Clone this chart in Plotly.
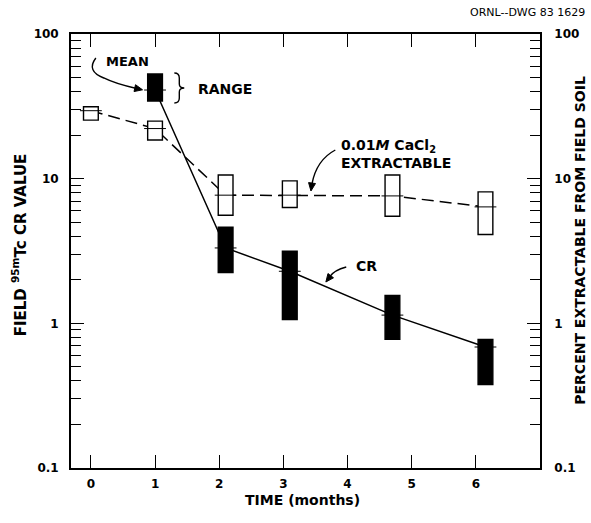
import math
import plotly.graph_objects as go

# ---- data ----
cr_time = [1.0, 2.1, 3.1, 4.7, 6.15]
cr_mean = [41.0, 3.32, 2.29, 1.14, 0.686]
cr_low = [34.4, 2.24, 1.06, 0.775, 0.378]
cr_high = [52.9, 4.62, 3.15, 1.56, 0.775]

ext_time = [0.0, 1.0, 2.1, 3.1, 4.7, 6.15]
ext_mean = [29.5, 22.2, 7.69, 7.69, 7.6, 6.38]
ext_low = [25.4, 18.5, 5.59, 6.32, 5.5, 4.11]
ext_high = [31.4, 25.0, 10.6, 9.66, 10.6, 8.1]

x_ticks = [0, 1, 2, 3, 4, 5, 6]
y_ticks = [0.1, 1, 10, 100]
y_tick_labels = ["0.1", "1", "10", "100"]
y_minor = [m * d for d in (0.1, 1, 10) for m in range(2, 10)]

FONT = "DejaVu Sans"
BOX_HALF = 0.115
TICK_HALF = 0.17

# figure geometry
W, H = 591, 523
ML, MR, MT, MB = 71, 48, 34, 55
PW, PH = W - ML - MR, H - MT - MB


def PX(px):
    return (px - ML) / PW


def PY(py):
    return (H - MB - py) / PH


fig = go.Figure()

# connecting lines through the means
fig.add_trace(go.Scatter(x=ext_time, y=ext_mean, mode="lines",
                         line=dict(color="black", width=1.5, dash="12px,6px"),
                         showlegend=False, hoverinfo="skip"))
fig.add_trace(go.Scatter(x=cr_time, y=cr_mean, mode="lines",
                         line=dict(color="black", width=1.5),
                         showlegend=False, hoverinfo="skip"))
# invisible trace to keep the right axis alive
fig.add_trace(go.Scatter(x=[ext_time[0]], y=[ext_mean[0]], yaxis="y2", mode="markers",
                         marker=dict(opacity=0), showlegend=False, hoverinfo="skip"))

shapes = []
# range boxes (open = CaCl2 extractable, filled = CR)
for t, lo, hi in zip(ext_time, ext_low, ext_high):
    shapes.append(dict(type="rect", xref="x", yref="y", x0=t - BOX_HALF, x1=t + BOX_HALF,
                       y0=lo, y1=hi, fillcolor="white", line=dict(color="black", width=1.4),
                       layer="above"))
for t, lo, hi in zip(cr_time, cr_low, cr_high):
    shapes.append(dict(type="rect", xref="x", yref="y", x0=t - BOX_HALF, x1=t + BOX_HALF,
                       y0=lo, y1=hi, fillcolor="black", line=dict(color="black", width=1.4),
                       layer="above"))
# mean ticks
for t, m in list(zip(ext_time, ext_mean)) + list(zip(cr_time, cr_mean)):
    shapes.append(dict(type="line", xref="x", yref="y", x0=t - TICK_HALF, x1=t + TICK_HALF,
                       y0=m, y1=m, line=dict(color="black", width=1), layer="above"))


def ppath(pts_cmd):
    out = []
    for tok in pts_cmd:
        if isinstance(tok, str):
            out.append(tok)
        else:
            out.append(f"{PX(tok[0]):.5f},{PY(tok[1]):.5f}")
    return " ".join(out)


line_style = dict(color="black", width=1.4)
# MEAN curved arrow
shapes.append(dict(type="path", xref="paper", yref="paper", line=line_style,
                   path=ppath(["M", (96, 58), "Q", (86, 71), (104, 78),
                               "Q", (116, 84), (137, 88.5)])))
# RANGE brace
shapes.append(dict(type="path", xref="paper", yref="paper", line=line_style,
                   path=ppath(["M", (175, 73), "Q", (180, 73), (180, 78), "L", (180, 84),
                               "Q", (180, 88), (185, 88), "Q", (180, 88), (180, 92),
                               "L", (180, 98), "Q", (180, 103), (175, 103)])))
# CaCl2 curved arrow
shapes.append(dict(type="path", xref="paper", yref="paper", line=line_style,
                   path=ppath(["M", (337, 150), "Q", (318, 160), (313.5, 184)])))
# CR arrow
shapes.append(dict(type="path", xref="paper", yref="paper", line=line_style,
                   path=ppath(["M", (348, 267), "Q", (336, 270), (331, 277)])))


def head(tip, frm, length=8, half=3.5):
    dx, dy = tip[0] - frm[0], tip[1] - frm[1]
    n = math.hypot(dx, dy)
    ux, uy = dx / n, dy / n
    bx, by = tip[0] - ux * length, tip[1] - uy * length
    p1 = (bx - uy * half, by + ux * half)
    p2 = (bx + uy * half, by - ux * half)
    shapes.append(dict(type="path", xref="paper", yref="paper",
                       line=dict(color="black", width=1), fillcolor="black",
                       path=ppath(["M", tip, "L", p1, "L", p2, "Z"])))


head((143, 89.8), (116, 84))
head((312.5, 191), (316, 165))
head((327.5, 282), (336, 271))

annotations = []


def label(px, py, text, size=14, xanchor="left", yanchor="middle", angle=0, align="left"):
    annotations.append(dict(xref="paper", yref="paper", x=PX(px), y=PY(py), text=text,
                            showarrow=False, xanchor=xanchor, yanchor=yanchor,
                            textangle=angle, align=align,
                            font=dict(family=FONT, size=size, color="black", weight="bold")))


label(104, 61.5, "MEAN", size=13)
label(197, 89, "RANGE", size=14)
label(341, 154, "0.01<i>M</i> CaCl<sub>2</sub><br>EXTRACTABLE", size=14, yanchor="middle")
label(356, 265.5, "CR", size=14)
label(304, 500, "TIME (months)", size=14, xanchor="center")
label(19, 245, "FIELD <sup>95m</sup>Tc CR VALUE", size=15, xanchor="center", angle=-90)
label(583, 240, "PERCENT EXTRACTABLE FROM FIELD SOIL", size=14, xanchor="center", angle=-90)
annotations.append(dict(xref="paper", yref="paper", x=PX(590), y=PY(12),
                        text="ORNL--DWG 83 1629", showarrow=False, xanchor="right",
                        yanchor="middle",
                        font=dict(family=FONT, size=11, color="black")))

yaxis_common = dict(
    type="log", range=[-1, 2], tickmode="array", tickvals=y_ticks, ticktext=y_tick_labels,
    ticks="inside", ticklen=13, tickwidth=1.4, tickcolor="black",
    showline=True, linecolor="black", linewidth=1.8, showgrid=False, zeroline=False,
    minor=dict(tickvals=y_minor, ticks="inside", ticklen=10, tickwidth=1.2,
               tickcolor="black", showgrid=False),
    tickfont=dict(family=FONT, size=12, color="black", weight="bold"),
)

fig.update_layout(
    width=W, height=H,
    margin=dict(l=ML, r=MR, t=MT, b=MB, pad=0),
    paper_bgcolor="white", plot_bgcolor="white",
    showlegend=False,
    font=dict(family=FONT, color="black"),
    xaxis=dict(range=[-0.31, 7.0], tickmode="array", tickvals=x_ticks,
               ticks="inside", ticklen=13, tickwidth=1.4, tickcolor="black",
               showline=True, linecolor="black", linewidth=1.8, mirror="ticks",
               showgrid=False, zeroline=False, ticklabelstandoff=4,
               tickfont=dict(family=FONT, size=12, color="black", weight="bold")),
    yaxis=dict(**yaxis_common, side="left", ticklabelstandoff=8),
    yaxis2=dict(**yaxis_common, side="right", overlaying="y", ticklabelstandoff=10),
    shapes=shapes,
    annotations=annotations,
)

fig.write_html("out.html", config={"displayModeBar": False},
               post_script="document.body.style.margin='0';document.body.style.overflow='hidden';")
